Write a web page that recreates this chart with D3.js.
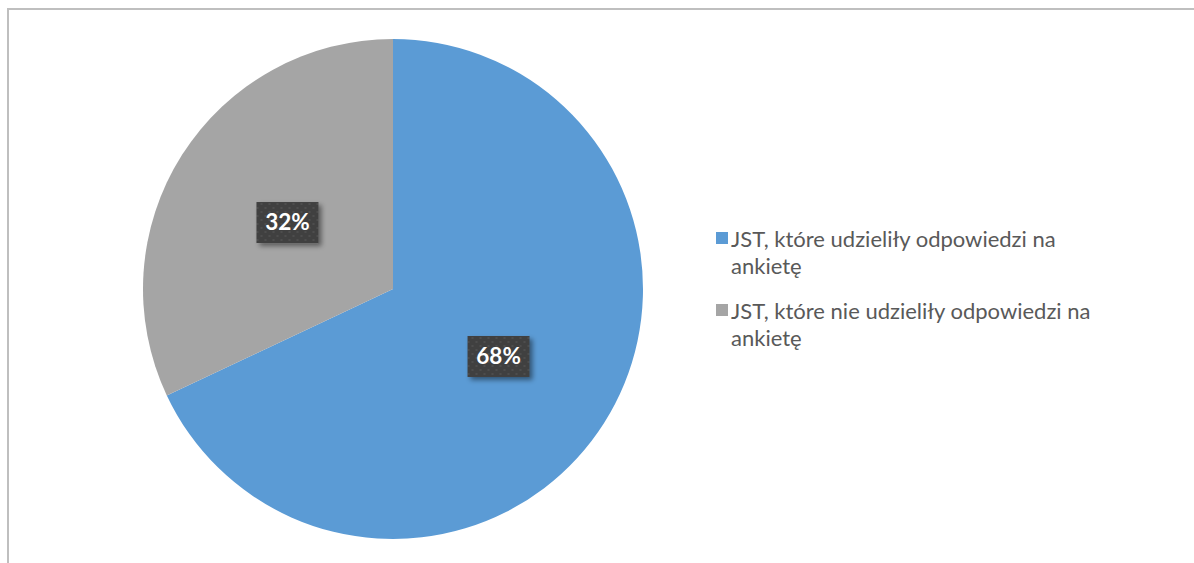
<!DOCTYPE html>
<html><head><meta charset="utf-8">
<script src="https://cdn.jsdelivr.net/npm/d3@7"></script>
<style>html,body{margin:0;padding:0;background:#fff;overflow:hidden}</style>
</head><body>
<svg id="chart" width="1194" height="563"></svg>
<script>
const categories = ["JST, które udzieliły odpowiedzi na ankietę", "JST, które nie udzieliły odpowiedzi na ankietę"];
const legendLines = [["JST, które udzieliły odpowiedzi na", "ankietę"], ["JST, które nie udzieliły odpowiedzi na", "ankietę"]];
const values = [68, 32];
const colors = ["#5B9BD5", "#A5A5A5"];

const svg = d3.select("#chart");
const W = 1194, H = 563;
svg.append("rect").attr("width", W).attr("height", H).attr("fill", "#fff");

// outer frame (extends past right/bottom edges)
svg.append("rect").attr("x", 8).attr("y", 9).attr("width", W + 10).attr("height", H + 10)
  .attr("fill", "none").attr("stroke", "#BFBFBF").attr("stroke-width", 2);

const defs = svg.append("defs");
const pat = defs.append("pattern").attr("id", "dots").attr("patternUnits", "userSpaceOnUse")
  .attr("width", 8).attr("height", 8);
pat.append("rect").attr("width", 8).attr("height", 8).attr("fill", "#404040");
pat.append("rect").attr("x", 1).attr("y", 1).attr("width", 2).attr("height", 2).attr("fill", "#4d4d4d");
pat.append("rect").attr("x", 5).attr("y", 5).attr("width", 2).attr("height", 2).attr("fill", "#4d4d4d");
const f = defs.append("filter").attr("id", "shadow").attr("x", "-30%").attr("y", "-30%").attr("width", "160%").attr("height", "160%");
f.append("feDropShadow").attr("dx", 3).attr("dy", 3).attr("stdDeviation", 2.5).attr("flood-color", "#000").attr("flood-opacity", 0.45);

const cx = 393, cy = 289, R = 250;
const pie = d3.pie().sort(null).value(d => d)(values);
const arc = d3.arc().innerRadius(0).outerRadius(R);
const labelArc = d3.arc().innerRadius(R * 0.5).outerRadius(R * 0.5);

const g = svg.append("g").attr("transform", `translate(${cx},${cy})`);
g.selectAll("path.slice").data(pie).join("path").attr("class", "slice")
  .attr("d", arc).attr("fill", (d, i) => colors[i]);

const total = d3.sum(values);
const lab = g.selectAll("g.lab").data(pie).join("g").attr("class", "lab")
  .attr("transform", d => `translate(${labelArc.centroid(d)})`);
lab.append("rect").attr("x", -31).attr("y", -20).attr("width", 62).attr("height", 41)
  .attr("fill", "url(#dots)").attr("filter", "url(#shadow)");
lab.append("text").attr("text-anchor", "middle").attr("dy", "0.36em")
  .attr("font-family", "Lato, sans-serif").attr("font-weight", "bold").attr("font-size", 22.5)
  .attr("fill", "#fff").text(d => Math.round(d.data / total * 100) + "%");

// legend
const legend = svg.append("g").attr("transform", "translate(716,0)");
const itemY = [247, 319];
const items = legend.selectAll("g.item").data(categories).join("g").attr("class", "item")
  .attr("transform", (d, i) => `translate(0,${itemY[i]})`);
items.append("rect").attr("x", 0).attr("y", -15).attr("width", 12).attr("height", 12)
  .attr("fill", (d, i) => colors[i]);
items.each(function(d, i) {
  const sel = d3.select(this);
  legendLines[i].forEach((ln, j) => {
    sel.append("text").attr("x", 15).attr("y", j * 27)
      .attr("font-family", "Lato, sans-serif").attr("font-size", 22).attr("fill", "#595959")
      .text(ln);
  });
});
</script>
</body></html>
